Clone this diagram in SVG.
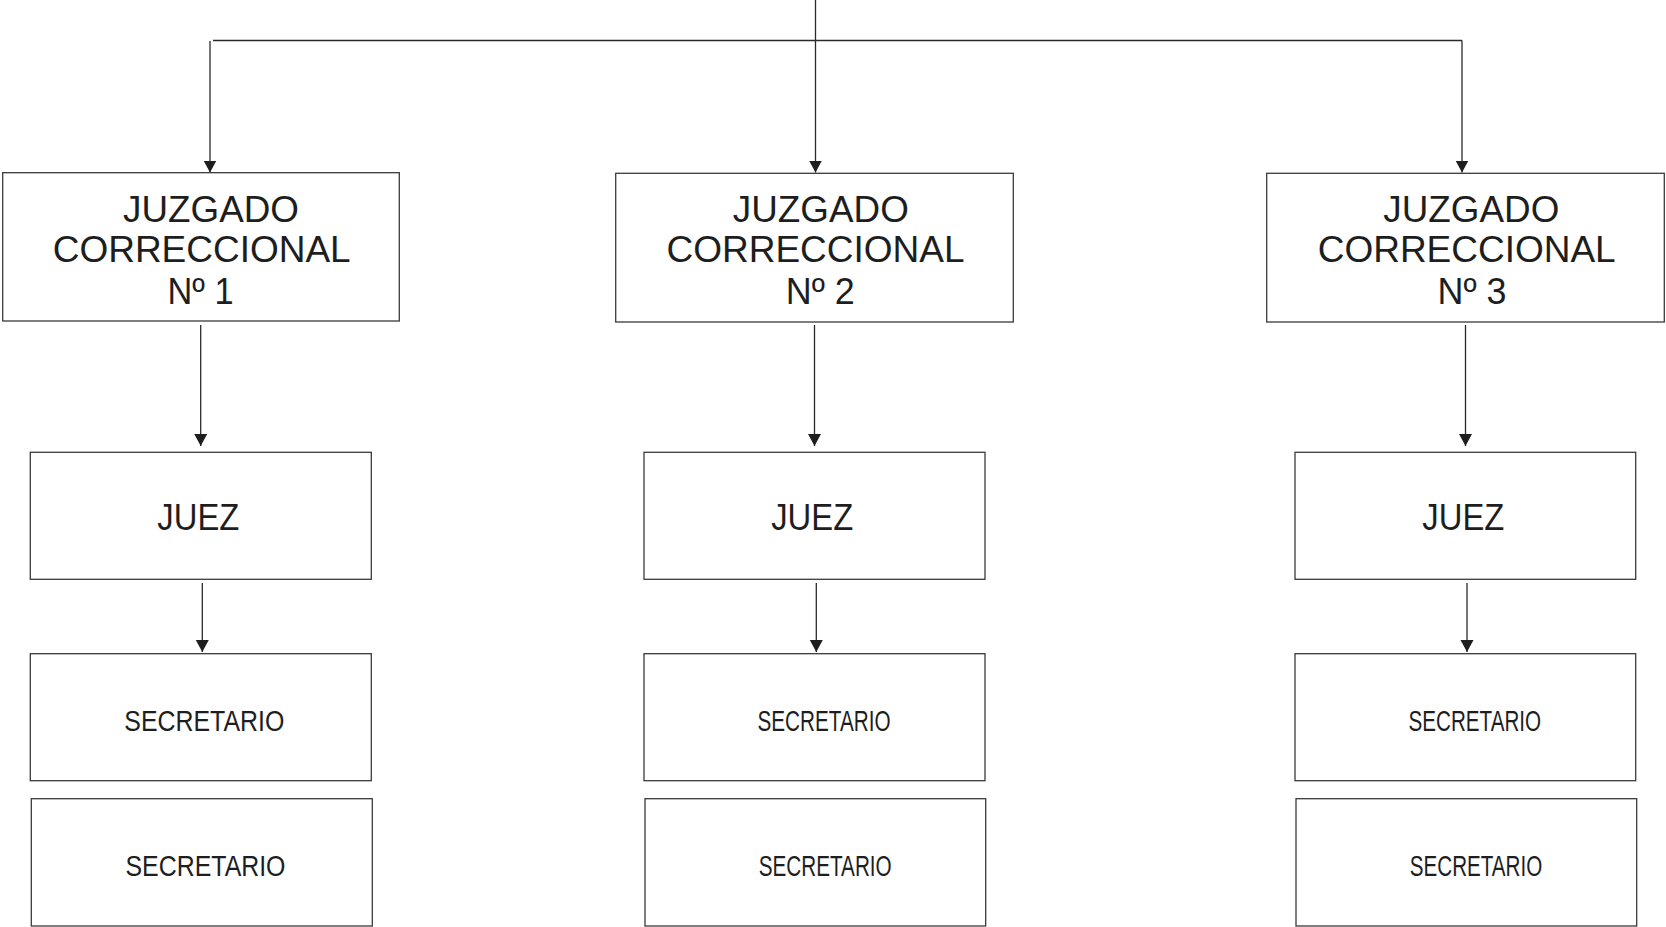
<svg xmlns="http://www.w3.org/2000/svg" width="1666" height="927" viewBox="0 0 1666 927">
<style>
.box{fill:#fff;stroke:#3a3a3a;stroke-width:1.3}
.ln{fill:none;stroke:#2a2a2a;stroke-width:1.3}
.t{font-family:"Liberation Sans",Arial,sans-serif;fill:#1e1e1e;text-anchor:middle}
.big{font-size:37px}
.juez{font-size:37px}
.sec{font-size:29px}
</style>
<defs>
<marker id="arr" markerUnits="userSpaceOnUse" markerWidth="14" markerHeight="15" refX="12" refY="7" orient="auto">
<path d="M0,0.5 L12,7 L0,13.5 Z" fill="#1e1e1e"/>
</marker>
</defs>
<rect width="1666" height="927" fill="#fff"/>
<g id="connectors">
<line class="ln" x1="213" y1="40.5" x2="1462" y2="40.5"/>
<path class="ln" d="M210,41 V172.5" marker-end="url(#arr)"/>
<path class="ln" d="M815.5,0 V172.5" marker-end="url(#arr)"/>
<path class="ln" d="M1462,40.5 V172.5" marker-end="url(#arr)"/>
<path class="ln" d="M200.7,325 V446" marker-end="url(#arr)"/>
<path class="ln" d="M814.5,325 V446" marker-end="url(#arr)"/>
<path class="ln" d="M1465.5,325 V446" marker-end="url(#arr)"/>
<path class="ln" d="M202.3,583 V652" marker-end="url(#arr)"/>
<path class="ln" d="M816.3,583 V652" marker-end="url(#arr)"/>
<path class="ln" d="M1467,583 V652" marker-end="url(#arr)"/>
</g>
<g id="juzgado1">
<rect class="box" x="2.7" y="172.7" width="396.6" height="148.3"/>
<text class="t big" x="211" y="221.7" textLength="176" lengthAdjust="spacingAndGlyphs">JUZGADO</text>
<text class="t big" x="201.7" y="261.7" textLength="298" lengthAdjust="spacingAndGlyphs">CORRECCIONAL</text>
<text class="t big" x="200.5" y="304" textLength="66" lengthAdjust="spacingAndGlyphs">Nº 1</text>
</g>
<g id="juzgado2">
<rect class="box" x="615.7" y="173.3" width="397.6" height="148.7"/>
<text class="t big" x="820.8" y="221.7" textLength="176" lengthAdjust="spacingAndGlyphs">JUZGADO</text>
<text class="t big" x="815.5" y="261.7" textLength="298" lengthAdjust="spacingAndGlyphs">CORRECCIONAL</text>
<text class="t big" x="820.3" y="304" textLength="69" lengthAdjust="spacingAndGlyphs">Nº 2</text>
</g>
<g id="juzgado3">
<rect class="box" x="1266.7" y="173.3" width="397.6" height="148.7"/>
<text class="t big" x="1471.3" y="221.7" textLength="176" lengthAdjust="spacingAndGlyphs">JUZGADO</text>
<text class="t big" x="1466.7" y="261.7" textLength="298" lengthAdjust="spacingAndGlyphs">CORRECCIONAL</text>
<text class="t big" x="1472" y="304" textLength="69" lengthAdjust="spacingAndGlyphs">Nº 3</text>
</g>
<g id="juez1">
<rect class="box" x="30.3" y="452.3" width="341" height="127"/>
<text class="t juez" x="198.3" y="530" textLength="82" lengthAdjust="spacingAndGlyphs">JUEZ</text>
</g>
<g id="juez2">
<rect class="box" x="644" y="452.3" width="341" height="127"/>
<text class="t juez" x="812.2" y="530" textLength="82" lengthAdjust="spacingAndGlyphs">JUEZ</text>
</g>
<g id="juez3">
<rect class="box" x="1295" y="452.3" width="340.7" height="127"/>
<text class="t juez" x="1463.3" y="530" textLength="82" lengthAdjust="spacingAndGlyphs">JUEZ</text>
</g>
<g id="secretario1a">
<rect class="box" x="30.3" y="653.7" width="341" height="127"/>
<text class="t sec" x="204.3" y="731" textLength="160" lengthAdjust="spacingAndGlyphs">SECRETARIO</text>
</g>
<g id="secretario1b">
<rect class="box" x="31.3" y="798.7" width="341" height="127.3"/>
<text class="t sec" x="205.5" y="876.3" textLength="160" lengthAdjust="spacingAndGlyphs">SECRETARIO</text>
</g>
<g id="secretario2a">
<rect class="box" x="644" y="653.7" width="341" height="127"/>
<text class="t sec" x="824" y="731" textLength="133" lengthAdjust="spacingAndGlyphs">SECRETARIO</text>
</g>
<g id="secretario2b">
<rect class="box" x="645" y="798.7" width="340.7" height="127.3"/>
<text class="t sec" x="825.2" y="876.3" textLength="133" lengthAdjust="spacingAndGlyphs">SECRETARIO</text>
</g>
<g id="secretario3a">
<rect class="box" x="1295" y="653.7" width="340.7" height="127"/>
<text class="t sec" x="1474.8" y="731" textLength="132.5" lengthAdjust="spacingAndGlyphs">SECRETARIO</text>
</g>
<g id="secretario3b">
<rect class="box" x="1296" y="798.7" width="340.7" height="127.3"/>
<text class="t sec" x="1476" y="876.3" textLength="132.5" lengthAdjust="spacingAndGlyphs">SECRETARIO</text>
</g>
</svg>
